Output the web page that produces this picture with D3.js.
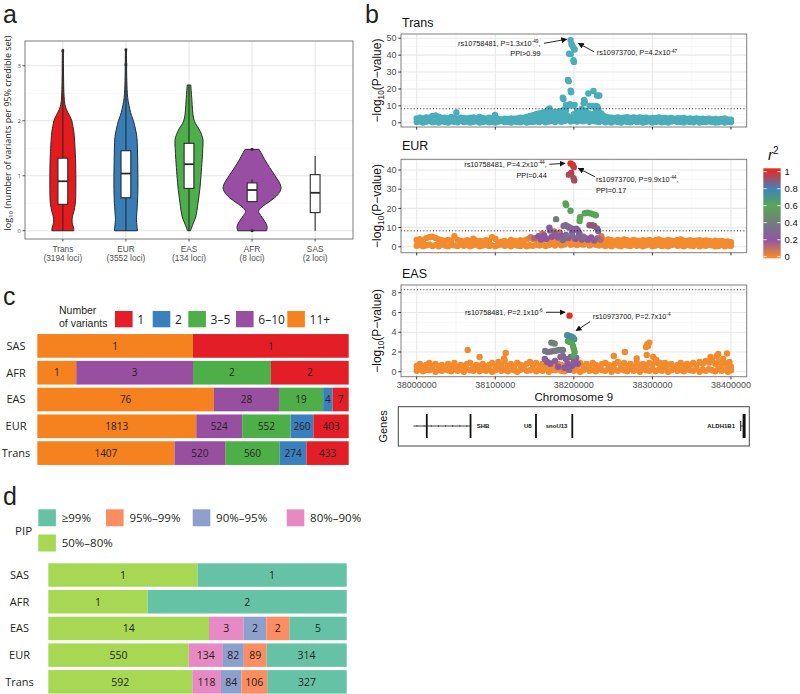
<!DOCTYPE html>
<html><head><meta charset="utf-8">
<script src="https://cdn.jsdelivr.net/npm/d3@7"></script>
<style>body{margin:0;background:#fff}svg{display:block}</style>
</head><body>
<svg id="fig" width="800" height="694"></svg>
<script>
// ---------------- DATA ----------------
// Panel a
const violinCats = ["Trans","EUR","EAS","AFR","SAS"];
const violinLoci = ["(3194 loci)","(3552 loci)","(134 loci)","(8 loci)","(2 loci)"];
const violinColors = ["#E41A1C","#377EB8","#4DAF4A","#984EA3",null];
// [log10 value, density]
const transViolin = [[0,11],[0.05,10.8],[0.1,10],[0.15,9.3],[0.25,9.5],[0.35,11],[0.5,12.5],[0.75,13],[1.0,13],[1.25,12.8],[1.5,12.2],[1.65,11.7],[1.8,11],[1.9,10],[2.0,9],[2.1,6.5],[2.2,3.7],[2.3,2],[2.45,1.2],[2.7,0.8],[3.0,0.6],[3.3,0.5]];
const eurViolin = [[0,11.5],[0.1,11],[0.2,10.5],[0.3,10.8],[0.5,11.5],[0.75,12],[1.0,12],[1.25,11.8],[1.5,11.5],[1.7,11],[1.85,9.5],[2.0,7.5],[2.1,5.5],[2.2,4],[2.35,2.3],[2.5,1.4],[2.8,0.8],[3.0,0.7],[3.3,0.5]];
const easViolin = [[0,1.5],[0.1,3.5],[0.25,6.7],[0.5,9],[0.75,10.8],[1.0,12],[1.3,13.2],[1.5,13.8],[1.65,14],[1.75,12.5],[1.85,10],[1.95,6.5],[2.05,4.5],[2.2,3.5],[2.4,2.8],[2.55,2.2],[2.65,1.8]];
const afrViolin = [[0,14.5],[0.08,15],[0.19,12],[0.28,8.5],[0.35,6.5],[0.42,9],[0.5,15],[0.6,22.5],[0.7,27.5],[0.77,29],[0.85,28],[1.0,23],[1.15,17.5],[1.3,12.5],[1.4,9.5],[1.48,7]];
const boxQ1 = [0.48,0.60,0.77,0.53,0.33];
const boxMed = [0.90,1.04,1.21,0.74,0.69];
const boxQ3 = [1.32,1.455,1.59,0.87,1.02];
const whiskLo = [0,0,0,0.53,0];
const whiskHi = [3.27,3.29,2.65,0.93,1.36];
const outliers = [[3.27],[3.02,3.29],[],[1.48,0],[]];
const aYTicks = [0,1,2,3];

// Panel b
const bandPos = [0,4,8,12,16,20,24,28,32,36,40,44,48,52,56,60,64,68,72,76,80,84,88,92,96,100,104,108,112,116,120,124,128,132,136,140,144,148,152,156,160,164,168,172,176,180,184,188,192,196,200,204,208,212,216,220,224,228,232,236,240,244,248,252,256,260,264,268,272,276,280,284,288,292,296,300,304,308,312,316,320,324,328,332,336,340,344,348,352,356,360,364,368,372,376,380,384,388,392,396,400];
const transHigh = [2.5,3.0,2.6,3.2,3.0,4.0,4.3,3.6,2.8,3.0,2.6,3.4,3.0,2.4,3.0,2.8,2.5,2.9,3.2,2.6,3.4,2.8,2.4,3.0,2.7,3.5,2.2,2.0,2.4,2.2,2.6,2.4,2.6,3.0,2.8,3.4,4.0,4.5,5.0,5.5,6.0,6.5,8.0,6.0,5.5,6.5,7.0,6.0,4.0,3.0,5.0,7.0,6.0,5.0,6.0,5.5,5.0,6.5,5.5,4.5,3.5,3.2,3.0,2.8,3.2,2.9,3.0,3.3,2.8,3.1,2.9,3.2,2.7,3.0,2.6,2.9,2.7,3.1,2.6,2.8,2.5,2.9,2.4,2.7,2.5,2.8,2.3,2.6,2.2,2.5,2.2,2.4,2.1,2.4,2.0,2.3,2.0,2.2,2.5,2.0,1.8];
const transLow = [0.4,0.8,0.1,0.6,1.0,0.3,0.7,0.2,0.9,0.5,0.1,0.8,0.6,0.3,1.0,0.4,0.7,0.2,0.6,0.9,0.1,0.5,0.8,0.3,0.6,0.2,0.7,1.0,0.4,0.6,0.1,0.8,0.5,0.3,0.9,0.2,0.6,0.4,0.8,0.5,1.0,0.3,0.7,1.2,0.5,1.4,0.6,1.0,1.6,0.8,1.2,0.7,1.3,0.9,1.5,0.6,1.1,0.8,0.5,1.0,0.3,0.7,0.2,0.9,0.5,0.1,0.8,0.6,0.3,1.0,0.4,0.7,0.2,0.6,0.9,0.1,0.5,0.8,0.3,0.6,0.2,0.7,1.0,0.4,0.6,0.1,0.8,0.5,0.3,0.9,0.2,0.6,0.4,0.8,0.5,0.1,0.3,0.7,0.2,0.5,0.4];
const transPeak = [[150,2.5],[154,3.2],[158,3.5],[162,3],[166,4],[170,3.5],[174,3],[178,4],[182,3.5],[186,3],[190,4],[194,2],[198,2.5],[202,3.5],[206,3],[210,4],[214,3],[218,3.5],[222,3],[226,4],[230,3],[234,2.5],[238,2],
 [195.8,48.9],[197,46.5],[198.5,45.2],[200,44],[201,43.3],[194,40.8],[196,40.6],[199.5,37],[200.2,36],[192.5,25.3],[193.5,24.5],[196,19],[196.5,18],[186,14.8],[186.8,14],[195,11],[197,10.5],[199,10.4],[201,10.6],[213,13.5],[214,12.5],[212.5,11.5],[218.5,17.3],[224.9,18.8],[229.5,16.2],[231,16],[232.4,16.2],[220,10],[223,9.8],[226,9.6],[228,10],[230,9.5],[231,8],[190,10.6],[191.5,9.8],[188,8],[169,8.5],[170,6],[160,4.5],[165,5.2],[175,6.2],[180,5.5],[185,6.5],[190,7.2],[205,6.5],[208,3.5],[210,8.2],[215,7.2],[235,5.5],[238,4],[50.5,6.1],[99.6,4.6]];

const eurHigh = [3.5,4.0,3.2,4.5,5.0,5.2,4.6,3.8,3.4,3.0,3.6,3.2,5.5,3.6,3.0,2.8,3.4,3.0,4.2,3.2,3.0,2.8,3.4,3.0,5.0,4.2,2.2,2.6,3.0,2.4,3.6,3.0,2.8,3.4,3.0,3.8,4.5,4.0,4.2,3.5,4.0,3.8,4.2,3.6,4.0,3.5,4.2,3.8,3.5,3.0,3.2,3.6,3.0,3.4,3.8,3.2,3.6,3.0,3.5,4.0,3.2,3.8,3.4,3.0,3.6,3.2,3.8,3.4,3.0,3.6,3.2,3.0,3.4,3.2,3.6,3.0,3.4,3.8,3.2,3.0,3.6,3.2,3.0,3.5,3.8,3.2,3.0,3.4,3.0,3.2,3.4,3.0,3.3,3.0,2.8,3.2,2.9,3.0,2.6,2.8,2.4];
const eurLow = [0.5,1.0,0.2,0.8,1.2,0.4,0.9,0.3,1.1,0.6,0.2,1.0,0.7,0.4,1.2,0.5,0.9,0.3,0.8,1.1,0.2,0.6,1.0,0.4,0.7,0.3,0.9,1.2,0.5,0.8,0.2,1.0,0.6,0.4,1.1,0.3,0.8,0.5,1.0,0.7,1.2,0.4,0.9,1.5,0.6,1.8,0.8,1.2,2.0,1.0,1.5,0.9,1.6,1.1,1.8,0.7,1.4,1.0,0.6,1.2,0.4,0.9,0.3,1.1,0.6,0.2,1.0,0.7,0.4,1.2,0.5,0.9,0.3,0.8,1.1,0.2,0.6,1.0,0.4,0.7,0.3,0.9,1.2,0.5,0.8,0.2,1.0,0.6,0.4,1.1,0.3,0.8,0.5,1.0,0.7,0.2,0.4,0.9,0.3,0.6,0.5];
// [kb, -log10 p, r2]
const eurPeak = [[145,5,0.05],[160,7,0.05],[175,8,0.08],[182,7.5,0.1],[235,5.5,0.05],
 [150,4.5,0.15],[155,5.5,0.2],[158,3.8,0.2],[162,6,0.22],[165,4.2,0.2],[172,5.2,0.2],[176,6.5,0.25],[180,4.8,0.25],[184,5.8,0.2],[186,3.5,0.3],[190,6.2,0.3],[193,4.5,0.25],[198,5.6,0.3],[202,4.2,0.2],[206,5.4,0.28],[210,3.8,0.25],[212,5.2,0.3],[215,4.4,0.22],[218,3.6,0.2],[222,4.8,0.2],[226,3.2,0.25],[230,4.5,0.15],[234,3.6,0.12],
 [168.8,10,0.25],[169.5,8.5,0.25],[187,10.8,0.28],[189.5,11.2,0.3],[192,10.6,0.25],[194,10.2,0.28],[197,9.6,0.22],[200,9.2,0.25],[203,9.4,0.2],[205,8.6,0.22],[198,7.6,0.2],[207,7.0,0.2],
 [177.4,14.4,0.42],
 [189.4,22.6,0.58],[190.3,21.8,0.58],[195.8,18.8,0.58],[208,15.4,0.58],[207.3,13.4,0.6],[214,17.5,0.58],[217.5,17.8,0.58],[221.5,17.4,0.58],[225,16.9,0.6],[228,16.4,0.6],
 [220,11.2,0.9],[223,11.2,0.9],[226,10.8,0.88],[229.5,9.6,0.88],[231,8.2,0.85],
 [193.6,37.6,0.93],[199.6,35.8,0.93],[200.5,34.6,0.93],[196.6,38.5,0.95],[200,41.4,0.95],[198.8,42.6,0.97],[195.8,43.4,1]];

const easHigh = [0.6,0.8,0.5,0.7,0.9,0.6,0.8,0.5,0.7,0.4,0.8,0.6,0.9,0.5,0.7,0.6,0.8,0.9,0.5,0.7,0.6,0.8,0.4,0.7,0.9,0.6,1.0,0.7,1.1,0.6,0.8,0.5,0.9,0.7,0.6,0.8,1.0,0.7,0.9,0.6,0.8,0.5,0.7,0.9,0.6,0.8,0.7,0.5,0.9,0.6,0.8,0.7,0.9,0.6,0.8,0.5,0.9,0.7,0.6,0.8,0.9,0.7,0.6,0.8,1.0,0.7,0.9,0.6,0.8,0.5,0.9,0.7,0.8,0.6,0.9,0.7,1.0,0.8,0.6,0.9,0.7,0.8,0.5,0.7,0.9,0.6,0.8,0.7,0.9,0.6,1.0,0.8,1.1,0.9,1.2,0.8,1.0,0.7,0.9,0.6,0.5];
const easLow = [0.1,0.25,0.05,0.2,0.15,0.3,0.0,0.2,0.1,0.25,0.15,0.05,0.3,0.1,0.2,0.0,0.25,0.15,0.1,0.3,0.05,0.2,0.1,0.25,0.0,0.15,0.3,0.1,0.2,0.05,0.25,0.15,0.0,0.2,0.3,0.1,0.15,0.25,0.05,0.2,0.1,0.3,0.0,0.2,0.15,0.25,0.1,0.05,0.3,0.2,0.1,0.25,0.0,0.15,0.3,0.1,0.2,0.05,0.25,0.15,0.1,0.3,0.0,0.2,0.1,0.25,0.15,0.05,0.3,0.1,0.2,0.0,0.25,0.15,0.1,0.3,0.05,0.2,0.1,0.25,0.0,0.15,0.3,0.1,0.2,0.05,0.25,0.15,0.1,0.3,0.0,0.2,0.1,0.25,0.15,0.05,0.3,0.1,0.2,0.0,0.15];
const easPeak = [[64.9,2.2,0],[80,1.5,0],[111.2,1.35,0],[113.3,1.9,0],[250.9,1.6,0],[265,2.0,0],[280,1.35,0],[291.9,2.5,0],[293.5,2.8,0],[296,2.95,0],[294.5,2.6,0],[292.8,1.7,0],[301,1.5,0],[305,1.2,0],[310,0.9,0],[374,1.5,0],[382,1.6,0],[383.8,1.8,0],[390,1.3,0],[395,1.85,0],[398,1.0,0],[388,1.1,0],
 [163,1.3,0.25],[166,1.0,0.22],[170,0.8,0.2],[176,1.1,0.25],[180,0.5,0.2],[183,1.5,0.25],[186,1.6,0.3],[188,0.4,0.22],[190,1.3,0.25],[192,0.8,0.2],[194,0.2,0.25],[196,1.5,0.28],[198,0.6,0.2],[200,1.0,0.22],[203,1.4,0.25],[205,0.8,0.2],
 [163.5,2.1,0.35],[166.8,2.0,0.32],[171,2.05,0.35],[175,2.1,0.35],[178.5,2.15,0.38],[182,2.2,0.35],[186,2.2,0.38],
 [171.3,2.95,0.42],[173.5,2.9,0.42],[175.5,2.85,0.42],
 [192.5,3.1,0.6],[195,3.0,0.6],[197.5,2.95,0.58],[199,2.6,0.6],[200,2.3,0.6],[201,2.0,0.58],[199.5,1.6,0.55],
 [191.5,3.7,0.72],[193,3.65,0.74],[195,3.6,0.75],[197,3.55,0.72],[199,3.45,0.7],[200.5,3.3,0.7],
 [194.5,5.68,1]];
const gwasThreshold = 8.3;
const xTicksBp = [38000000,38100000,38200000,38300000,38400000];
const r2Stops = [0,0.2,0.6,0.8,1];
const r2Colors = ["#F28A2E","#8E55A3","#56A754","#4382BC","#DB2F2B"];
const r2Ticks = [0,0.2,0.4,0.6,0.8,1];
// genes (kb offset from 38,000,000)
const geneNames = ["SHB","U8","snoU13","ALDH1B1"];
const geneLabelKb = [76.4,136.6,164.2,405.1];
const geneTallKb = [12.8,68.5,151.8,198.0];
const geneIntron = [-4.2,68.5];
const geneAldhKb = [412.4,416.7];

// Panel c
const cCats = ["SAS","AFR","EAS","EUR","Trans"];
const cGroups = ["11+","6–10","3–5","2","1"];
const cColors = ["#F5821F","#994FA0","#4EAF48","#3A7FBE","#E41E26"];
const cN11 = [1,1,76,1813,1407];
const cN6 = [0,3,28,524,520];
const cN3 = [0,2,19,552,560];
const cN2 = [0,0,4,260,274];
const cN1 = [1,2,7,403,433];
// Panel d
const dGroups = ["50%–80%","80%–90%","90%–95%","95%–99%","≥99%"];
const dColors = ["#A6D854","#E78AC3","#8DA0CB","#FC8D62","#66C2A5"];
const d50 = [1,1,14,550,592];
const d80 = [0,0,3,134,118];
const d90 = [0,0,2,82,84];
const d95 = [0,0,2,89,106];
const d99 = [1,2,5,314,327];

// ---------------- DRAW ----------------
const svg = d3.select("#fig");
const SANS = "'Open Sans', 'Noto Sans', sans-serif";
const HEL = "'Liberation Sans', Arial, sans-serif";

function richText(sel, str, fs){
  const tokens = str.split(/(\^[^\^]*\^|_[^_]*_)/).filter(s=>s.length);
  let shift = 0;
  tokens.forEach(tk=>{
    const t = sel.append("tspan");
    if(tk[0]==="^"){ t.text(tk.slice(1,-1)).attr("font-size",fs*0.65).attr("dy",-fs*0.4-shift); shift=-fs*0.4; }
    else if(tk[0]==="_"){ t.text(tk.slice(1,-1)).attr("font-size",fs*0.68).attr("dy",fs*0.25-shift); shift=fs*0.25; }
    else { t.text(tk); if(shift!==0){ t.attr("dy",-shift); shift=0; } }
  });
}

// panel letters
[["a",3,23.2],["b",365,23.2],["c",3,305],["d",3,505]].forEach(l=>{
  svg.append("text").attr("x",l[1]).attr("y",l[2]).text(l[0])
    .attr("font-family",HEL).attr("font-size",25).attr("fill","#231F20");
});

// ===== Panel a =====
(function(){
  const L=25,R=353,T=41,B=239;
  const g = svg.append("g");
  const x = d3.scalePoint().domain(violinCats).range([L,R]).padding(0.6);
  const y = d3.scaleLinear().domain([-0.15,3.45]).range([B,T]);
  const w = d3.scaleLinear().domain([0,30]).range([0, x.step()*30/63.1]);
  g.append("rect").attr("x",L).attr("y",T).attr("width",R-L).attr("height",B-T).attr("fill","#fff");
  [0.5,1.5,2.5].forEach(v=>g.append("line").attr("x1",L).attr("x2",R).attr("y1",y(v)).attr("y2",y(v)).attr("stroke","#F2F2F2").attr("stroke-width",0.6));
  aYTicks.forEach(v=>g.append("line").attr("x1",L).attr("x2",R).attr("y1",y(v)).attr("y2",y(v)).attr("stroke","#E6E6E6").attr("stroke-width",1.1));
  violinCats.forEach(c=>g.append("line").attr("x1",x(c)).attr("x2",x(c)).attr("y1",T).attr("y2",B).attr("stroke","#E6E6E6").attr("stroke-width",1.1));
  const profiles=[transViolin,eurViolin,easViolin,afrViolin,null];
  violinCats.forEach((c,i)=>{
    const cx=x(c);
    if(profiles[i]){
      const area=d3.area().x0(d=>cx-w(d[1])).x1(d=>cx+w(d[1])).y(d=>y(d[0])).curve(d3.curveCatmullRom);
      g.append("path").attr("d",area(profiles[i])).attr("fill",violinColors[i]).attr("stroke","#2b2b2b").attr("stroke-width",1);
    }
    g.append("line").attr("x1",cx).attr("x2",cx).attr("y1",y(whiskLo[i])).attr("y2",y(whiskHi[i])).attr("stroke","#2b2b2b").attr("stroke-width",1.1);
    const bw=x.step()*0.155;
    g.append("rect").attr("x",cx-bw/2).attr("width",bw).attr("y",y(boxQ3[i])).attr("height",y(boxQ1[i])-y(boxQ3[i]))
      .attr("fill","#fff").attr("stroke","#2b2b2b").attr("stroke-width",1.1);
    g.append("line").attr("x1",cx-bw/2).attr("x2",cx+bw/2).attr("y1",y(boxMed[i])).attr("y2",y(boxMed[i])).attr("stroke","#2b2b2b").attr("stroke-width",1.8);
    outliers[i].forEach(o=>g.append("rect").attr("x",cx-1.3).attr("y",y(o)-1.3).attr("width",2.6).attr("height",2.6).attr("fill","#2b2b2b"));
  });
  g.append("rect").attr("x",L).attr("y",T).attr("width",R-L).attr("height",B-T).attr("fill","none").attr("stroke","#7a7a7a").attr("stroke-width",1);
  aYTicks.forEach(v=>{
    g.append("line").attr("x1",L-2.5).attr("x2",L).attr("y1",y(v)).attr("y2",y(v)).attr("stroke","#555");
    g.append("text").attr("x",L-4).attr("y",y(v)).attr("dy","0.35em").attr("text-anchor","end").text(v)
      .attr("font-family",SANS).attr("font-size",6).attr("fill","#555");
  });
  violinCats.forEach((c,i)=>{
    g.append("line").attr("x1",x(c)).attr("x2",x(c)).attr("y1",B).attr("y2",B+2.5).attr("stroke","#555");
    g.append("text").attr("x",x(c)).attr("y",251.5).attr("text-anchor","middle").text(c).attr("font-family",HEL).attr("font-size",8.3).attr("fill","#4d4d4d");
    g.append("text").attr("x",x(c)).attr("y",261.2).attr("text-anchor","middle").text(violinLoci[i]).attr("font-family",HEL).attr("font-size",8.3).attr("fill","#4d4d4d");
  });
  const yt=g.append("text").attr("transform","translate(11,133) rotate(-90)").attr("text-anchor","middle")
    .attr("font-family",SANS).attr("font-size",9).attr("fill","#231F20");
  richText(yt,"log_10_ (number of variants per 95% credible set)",9);
})();

// ===== Panel b =====
const xb = d3.scaleLinear().domain([37980000,38420000]).range([401,746.7]);
const bp = kb => 38000000 + kb*1000;
const r2Color = d3.scaleLinear().domain(r2Stops).range(r2Colors);
const defs = svg.append("defs");
defs.append("marker").attr("id","arr").attr("viewBox","0 0 10 10").attr("refX",9).attr("refY",5)
  .attr("markerWidth",6).attr("markerHeight",6).attr("markerUnits","userSpaceOnUse").attr("orient","auto")
  .append("path").attr("d","M0,0 L10,5 L0,10 z").attr("fill","#111");

function manhattan(o){
  const L=401,R=746.7,T=o.top,B=o.bottom;
  const y=d3.scaleLinear().domain(o.yDomain).range([B,T]);
  const g=svg.append("g");
  const cid="clip"+o.title;
  defs.append("clipPath").attr("id",cid).append("rect").attr("x",L).attr("y",T).attr("width",R-L).attr("height",B-T);
  g.append("rect").attr("x",L).attr("y",T).attr("width",R-L).attr("height",B-T).attr("fill","#fff");
  const gg=g.append("g").attr("clip-path",`url(#${cid})`);
  o.yMinor.forEach(v=>gg.append("line").attr("x1",L).attr("x2",R).attr("y1",y(v)).attr("y2",y(v)).attr("stroke","#F2F2F2").attr("stroke-width",0.6));
  [38050000,38150000,38250000,38350000].forEach(v=>gg.append("line").attr("x1",xb(v)).attr("x2",xb(v)).attr("y1",T).attr("y2",B).attr("stroke","#F2F2F2").attr("stroke-width",0.6));
  o.yTicks.forEach(v=>gg.append("line").attr("x1",L).attr("x2",R).attr("y1",y(v)).attr("y2",y(v)).attr("stroke","#E8E8E8").attr("stroke-width",1.1));
  xTicksBp.forEach(v=>gg.append("line").attr("x1",xb(v)).attr("x2",xb(v)).attr("y1",T).attr("y2",B).attr("stroke","#E8E8E8").attr("stroke-width",1.1));
  const pts=gg.append("g");
  o.bands.forEach(arr=>{
    pts.selectAll(null).data(bandPos.filter((d,i)=>arr[i]!==undefined).map((d,i)=>[d,arr[i]])).join("circle")
      .attr("cx",d=>xb(bp(d[0]))).attr("cy",d=>y(d[1])).attr("r",3.2).attr("fill",o.color||r2Color(0));
  });
  const pk=o.peak.slice().sort((a,b)=>(a[2]||0)-(b[2]||0));
  pts.selectAll(null).data(pk).join("circle")
    .attr("cx",d=>xb(bp(d[0]))).attr("cy",d=>y(d[1])).attr("r",3.2)
    .attr("fill",d=>o.color||r2Color(d[2]));
  gg.append("line").attr("x1",L).attr("x2",R).attr("y1",y(gwasThreshold)).attr("y2",y(gwasThreshold))
    .attr("stroke","#111").attr("stroke-width",1).attr("stroke-dasharray","1,2.2");
  g.append("rect").attr("x",L).attr("y",T).attr("width",R-L).attr("height",B-T).attr("fill","none").attr("stroke","#7f7f7f").attr("stroke-width",1);
  o.yTicks.forEach(v=>{
    g.append("line").attr("x1",L-2.7).attr("x2",L).attr("y1",y(v)).attr("y2",y(v)).attr("stroke","#333");
    g.append("text").attr("x",L-4.5).attr("y",y(v)).attr("dy","0.36em").attr("text-anchor","end").text(v)
      .attr("font-family",HEL).attr("font-size",9).attr("fill","#4d4d4d");
  });
  xTicksBp.forEach(v=>{
    g.append("line").attr("x1",xb(v)).attr("x2",xb(v)).attr("y1",B).attr("y2",B+2.7).attr("stroke","#333");
    if(o.xLabels) g.append("text").attr("x",xb(v)).attr("y",B+10.8).attr("text-anchor","middle").text(v)
      .attr("font-family",HEL).attr("font-size",9).attr("fill","#4d4d4d");
  });
  g.append("text").attr("x",402).attr("y",o.titleY).text(o.title).attr("font-family",HEL).attr("font-size",12.5).attr("fill","#111");
  const yt=g.append("text").attr("transform",`translate(381,${(T+B)/2}) rotate(-90)`).attr("text-anchor","middle")
    .attr("font-family",HEL).attr("font-size",12).attr("fill","#111");
  richText(yt,"−log_10_(P−value)",12);
  o.ann.forEach(a=>{
    if(a.arrow){
      g.append("line").attr("x1",xb(bp(a.arrow[0]))).attr("y1",y(a.arrow[1])).attr("x2",xb(bp(a.arrow[2]))).attr("y2",y(a.arrow[3]))
        .attr("stroke","#111").attr("stroke-width",0.9).attr("marker-end","url(#arr)");
    } else {
      const t=g.append("text").attr("x",xb(bp(a.at[0]))).attr("y",y(a.at[1])).attr("text-anchor",a.anchor)
        .attr("font-family",HEL).attr("font-size",7.3).attr("fill","#111");
      richText(t,a.text,7.3);
    }
  });
}

manhattan({title:"Trans",titleY:26.5,top:34,bottom:127,yDomain:[-2.5,52.5],yTicks:[0,10,20,30,40,50],yMinor:[5,15,25,35,45],
  xLabels:false,color:"#4AADBA",bands:[transLow,transHigh],peak:transPeak,
  ann:[{text:"rs10758481, P=1.3x10^-49^,",at:[157.6,45.4],anchor:"end"},{text:"PPI>0.99",at:[157.6,39.6],anchor:"end"},
       {arrow:[162,47.0,190.9,49.4]},
       {text:"rs10973700, P=4.2x10^-47^",at:[229.1,39.8],anchor:"start"},{arrow:[225.7,42.0,205.7,47.0]}]});
manhattan({title:"EUR",titleY:150,top:159.3,bottom:252.7,yDomain:[-3.1,45.6],yTicks:[0,10,20,30,40],yMinor:[5,15,25,35,45],
  xLabels:false,bands:[eurLow,eurHigh],peak:eurPeak,
  ann:[{text:"rs10758481, P=4.2x10^-44^,",at:[165.5,41.6],anchor:"end"},{text:"PPI=0.44",at:[165.5,35.6],anchor:"end"},
       {arrow:[168.8,43.0,188.8,43.5]},
       {text:"rs10973700, P=9.9x10^-44^,",at:[228.2,34.0],anchor:"start"},{text:"PPI=0.17",at:[228.2,28.0],anchor:"start"},
       {arrow:[226.9,36.5,205.7,40.9]}]});
manhattan({title:"EAS",titleY:278,top:285,bottom:376.7,yDomain:[-0.5,8.78],yTicks:[0,2,4,6,8],yMinor:[1,3,5,7],
  xLabels:true,bands:[easLow,easHigh],peak:easPeak,
  ann:[{text:"rs10758481, P=2.1x10^-6^",at:[160.4,5.74],anchor:"end"},{arrow:[164.6,6.02,188.8,6.02]},
       {text:"rs10973700, P=2.7x10^-4^",at:[224,5.34],anchor:"start"},{arrow:[220.6,5.07,202.8,4.15]}]});
svg.append("text").attr("x",xb(38200000)).attr("y",401).attr("text-anchor","middle").text("Chromosome 9")
  .attr("font-family",HEL).attr("font-size",11.5).attr("fill","#111");

// genes track
(function(){
  const g=svg.append("g");
  const T=406.7,B=446,yc=426;
  g.append("rect").attr("x",398.3).attr("y",T).attr("width",351).attr("height",B-T).attr("fill","#fff").attr("stroke","#444").attr("stroke-width",1);
  g.append("line").attr("x1",xb(bp(geneIntron[0]))).attr("x2",xb(bp(geneIntron[1]))).attr("y1",yc).attr("y2",yc).attr("stroke","#111").attr("stroke-width",0.8);
  d3.range(0,8).forEach(k=>{
    const xx=xb(bp(geneIntron[0]+(geneIntron[1]-geneIntron[0])*(k+0.5)/8));
    g.append("line").attr("x1",xx).attr("x2",xx).attr("y1",yc-0.8).attr("y2",yc+0.8).attr("stroke","#111").attr("stroke-width",0.6);
  });
  geneTallKb.forEach(k=>g.append("line").attr("x1",xb(bp(k))).attr("x2",xb(bp(k))).attr("y1",414).attr("y2",438).attr("stroke","#111").attr("stroke-width",1.8));
  g.append("line").attr("x1",xb(bp(geneAldhKb[0]))).attr("x2",xb(bp(geneAldhKb[1]))).attr("y1",yc).attr("y2",yc).attr("stroke","#111").attr("stroke-width",0.8);
  g.append("line").attr("x1",xb(bp(geneAldhKb[0]))).attr("x2",xb(bp(geneAldhKb[0]))).attr("y1",421).attr("y2",431).attr("stroke","#111").attr("stroke-width",1);
  g.append("line").attr("x1",xb(bp(geneAldhKb[1]))).attr("x2",xb(bp(geneAldhKb[1]))).attr("y1",414).attr("y2",438).attr("stroke","#111").attr("stroke-width",3);
  geneNames.forEach((n,i)=>g.append("text").attr("x",xb(bp(geneLabelKb[i]))).attr("y",yc).attr("dy","0.35em")
    .attr("text-anchor",i===3?"end":"start").text(n).attr("font-family",HEL).attr("font-weight","bold").attr("font-size",6).attr("fill","#111"));
  g.append("text").attr("transform",`translate(387,${(T+B)/2}) rotate(-90)`).attr("text-anchor","middle").text("Genes")
    .attr("font-family",HEL).attr("font-size",11).attr("fill","#111");
})();

// r2 colour bar
(function(){
  const g=svg.append("g");
  const ly=d3.scaleLinear().domain([0,1]).range([256.7,171.7]);
  const gr=defs.append("linearGradient").attr("id","r2grad").attr("gradientUnits","userSpaceOnUse")
    .attr("x1",0).attr("x2",0).attr("y1",ly(0)).attr("y2",ly(1));
  r2Stops.forEach((s,i)=>gr.append("stop").attr("offset",s).attr("stop-color",r2Colors[i]));
  g.append("rect").attr("x",763.3).attr("y",ly(1)-3.4).attr("width",17.4).attr("height",ly(0)-ly(1)+5).attr("fill","url(#r2grad)");
  r2Ticks.forEach(v=>{
    g.append("line").attr("x1",763.3).attr("x2",766.8).attr("y1",ly(v)).attr("y2",ly(v)).attr("stroke","#fff").attr("stroke-width",0.8);
    g.append("line").attr("x1",777.2).attr("x2",780.7).attr("y1",ly(v)).attr("y2",ly(v)).attr("stroke","#fff").attr("stroke-width",0.8);
    g.append("text").attr("x",784.5).attr("y",ly(v)).attr("dy","0.36em").text(v).attr("font-family",HEL).attr("font-size",9.5).attr("fill","#111");
  });
  const t=g.append("text").attr("x",768).attr("y",160).attr("font-family",HEL).attr("font-size",15).attr("fill","#111");
  t.append("tspan").text("r").attr("font-style","italic");
  t.append("tspan").text("2").attr("font-size",10).attr("dy",-6);
})();

// ===== stacked bars (c, d) =====
function stacked(o){
  const g=svg.append("g");
  const yb=d3.scaleBand().domain(cCats).range(o.yRange).paddingInner(o.pad).paddingOuter(o.pad/2);
  const xs=d3.scaleLinear().domain([0,1]).range(o.xRange);
  cCats.forEach((c,i)=>{
    const vals=o.series.map(s=>s[i]);
    const tot=d3.sum(vals);
    let acc=0;
    vals.forEach((v,j)=>{
      if(v>0){
        const x0=xs(acc/tot), x1=xs((acc+v)/tot);
        g.append("rect").attr("x",x0).attr("y",yb(c)).attr("width",x1-x0).attr("height",yb.bandwidth()).attr("fill",o.colors[j]);
        g.append("text").attr("x",(x0+x1)/2).attr("y",yb(c)+yb.bandwidth()/2).attr("dy","0.36em").attr("text-anchor","middle")
          .text(v).attr("font-family",SANS).attr("font-size",o.fs).attr("fill","#231F20");
      }
      acc+=v;
    });
    g.append("text").attr("x",o.labelX).attr("y",yb(c)+yb.bandwidth()/2).attr("dy","0.36em").attr("text-anchor","middle")
      .text(c).attr("font-family",SANS).attr("font-size",11).attr("fill","#231F20");
  });
}
stacked({yRange:[332.5,466.5],pad:0.116,xRange:[37.3,348.7],series:[cN11,cN6,cN3,cN2,cN1],colors:cColors,fs:10,labelX:16});
stacked({yRange:[561.7,695.2],pad:0.12,xRange:[48.3,346.7],series:[d50,d80,d90,d95,d99],colors:dColors,fs:10.5,labelX:19.5});

// legend c
(function(){
  const g=svg.append("g").attr("font-family",SANS).attr("fill","#231F20");
  g.append("text").attr("x",59).attr("y",314.3).text("Number").attr("font-family",HEL).attr("font-size",10.5);
  g.append("text").attr("x",59).attr("y",326.6).text("of variants").attr("font-family",HEL).attr("font-size",10.5);
  const order=[4,3,2,1,0];
  const sx=[115,152.7,188.3,236,287.3];
  order.forEach((j,k)=>{
    g.append("rect").attr("x",sx[k]).attr("y",311).attr("width",17.6).attr("height",16.3).attr("fill",cColors[j]);
    g.append("text").attr("x",sx[k]+22.3).attr("y",319.2).attr("dy","0.36em").text(cGroups[j]).attr("font-size",12);
  });
})();
// legend d
(function(){
  const g=svg.append("g").attr("font-family",SANS).attr("fill","#231F20");
  g.append("text").attr("x",15).attr("y",530.8).attr("dy","0.36em").text("PIP").attr("font-size",11.5);
  const items=[[4,38.3,509.3],[3,106,509.3],[2,192.7,509.3],[1,286.7,509.3],[0,38.3,534.5]];
  items.forEach(it=>{
    g.append("rect").attr("x",it[1]).attr("y",it[2]).attr("width",17.6).attr("height",17).attr("fill",dColors[it[0]]);
    g.append("text").attr("x",it[1]+23.4).attr("y",it[2]+8.5).attr("dy","0.36em").text(dGroups[it[0]]).attr("font-size",11.5);
  });
})();
</script>
</body></html>
